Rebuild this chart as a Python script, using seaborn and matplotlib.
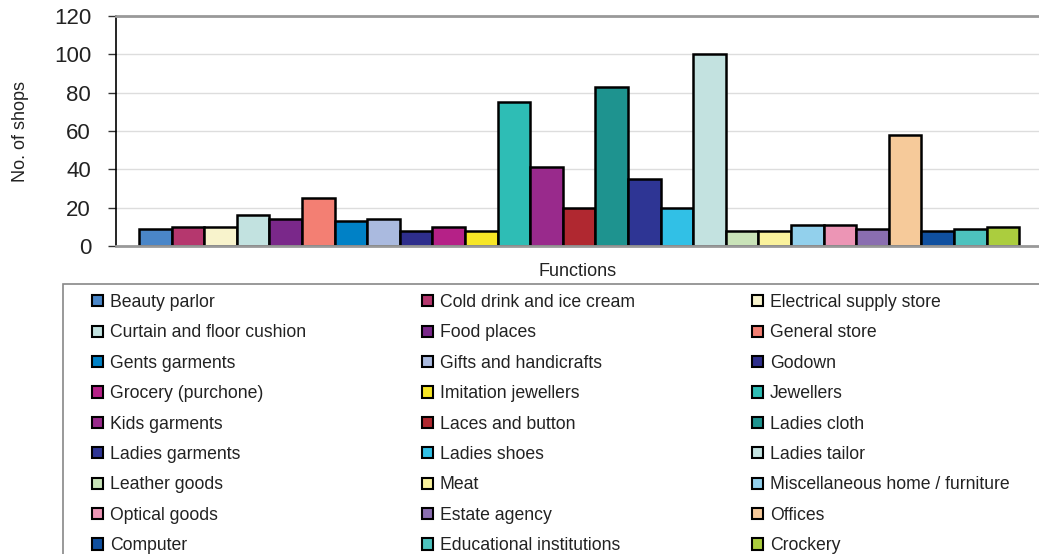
import matplotlib
matplotlib.use("Agg")
import matplotlib.pyplot as plt
from matplotlib.patches import Patch, Rectangle
import seaborn as sns
import pandas as pd

categories = [
    "Beauty parlor", "Cold drink and ice cream", "Electrical supply store",
    "Curtain and floor cushion", "Food places", "General store",
    "Gents garments", "Gifts and handicrafts", "Godown",
    "Grocery (purchone)", "Imitation jewellers", "Jewellers",
    "Kids garments", "Laces and button", "Ladies cloth",
    "Ladies garments", "Ladies shoes", "Ladies tailor",
    "Leather goods", "Meat", "Miscellaneous home / furniture",
    "Optical goods", "Estate agency", "Offices",
    "Computer", "Educational institutions", "Crockery",
]
shops = [9, 10, 10, 16, 14, 25, 13, 14, 8, 10, 8, 75, 41, 20, 83, 35, 20, 100,
         8, 8, 11, 11, 9, 58, 8, 9, 10]
colors = [
    "#4A86C8", "#B5376E", "#F8F3CC", "#C2E2E0", "#7A288A", "#F37F73",
    "#0081C6", "#AABADF", "#2E2E8C", "#B52187", "#F7E626", "#2EBDB5",
    "#992A8C", "#B02830", "#1E938F", "#2E3594", "#31C0E6", "#C3E2E0",
    "#C9E3B8", "#FAF29C", "#92D0EC", "#EC95B5", "#8A6EB0", "#F6CA9A",
    "#1050A0", "#4DC2BE", "#ABCD3E",
]
y_ticks = [0, 20, 40, 60, 80, 100, 120]

sns.set_theme(style="white")
plt.rcParams["font.family"] = ["Liberation Sans", "DejaVu Sans"]

W, H = 1039, 554
fig = plt.figure(figsize=(W / 100, H / 100), dpi=100)
ax = fig.add_axes([116 / W, (H - 246) / H, 923 / W, 230 / H])

df = pd.DataFrame({"Function": categories, "Shops": shops})
palette = dict(zip(categories, colors))
sns.barplot(data=df, x="Function", y="Shops", hue="Function", order=categories,
            hue_order=categories, palette=palette, dodge=False, width=1.0,
            edgecolor="black", linewidth=1.8, saturation=1, legend=False, ax=ax)

ax.set_ylim(0, 120)
ax.set_xlim(-1.205, 27.11)
ax.set_yticks(y_ticks)
ax.set_yticklabels([str(t) for t in y_ticks], fontsize=16, color="#222222")
ax.set_xticks([])
ax.tick_params(axis="y", left=True, length=6, width=1, color="#333333", pad=12)
ax.yaxis.grid(True, color="#dddddd", linewidth=1)
ax.set_axisbelow(True)
for s in ("top", "bottom"):
    ax.spines[s].set_color("#999999")
    ax.spines[s].set_linewidth(2)
ax.spines["left"].set_color("black")
ax.spines["left"].set_linewidth(1.2)
ax.spines["right"].set_visible(False)

ax.set_xlabel("Functions", fontsize=13, color="#222222", labelpad=12.5)
ax.set_ylabel("No. of shops", fontsize=13, color="#222222", labelpad=18)

# Legend frame running off the lower right of the figure
fig.patches.append(Rectangle((63 / W, -0.05), 1.1, (H - 284) / H + 0.05,
                             transform=fig.transFigure, fill=False,
                             edgecolor="#888888", linewidth=1.2))

# Three legend columns, filled row by row
col_x = [92, 422, 752]
for c in range(3):
    idx = list(range(c, len(categories), 3))
    handles = [Patch(facecolor=colors[i], edgecolor="black", linewidth=1.5)
               for i in idx]
    labels = [categories[i] for i in idx]
    leg = fig.legend(handles, labels, loc="upper left",
                     bbox_to_anchor=(col_x[c] / W, (H - 294) / H),
                     bbox_transform=fig.transFigure, frameon=False,
                     fontsize=12.7, handlelength=0.6, handleheight=0.6,
                     handletextpad=0.4, labelspacing=0.76, borderpad=0,
                     borderaxespad=0)
    for t in leg.get_texts():
        t.set_color("#222222")

fig.savefig("out.png", dpi=100)
